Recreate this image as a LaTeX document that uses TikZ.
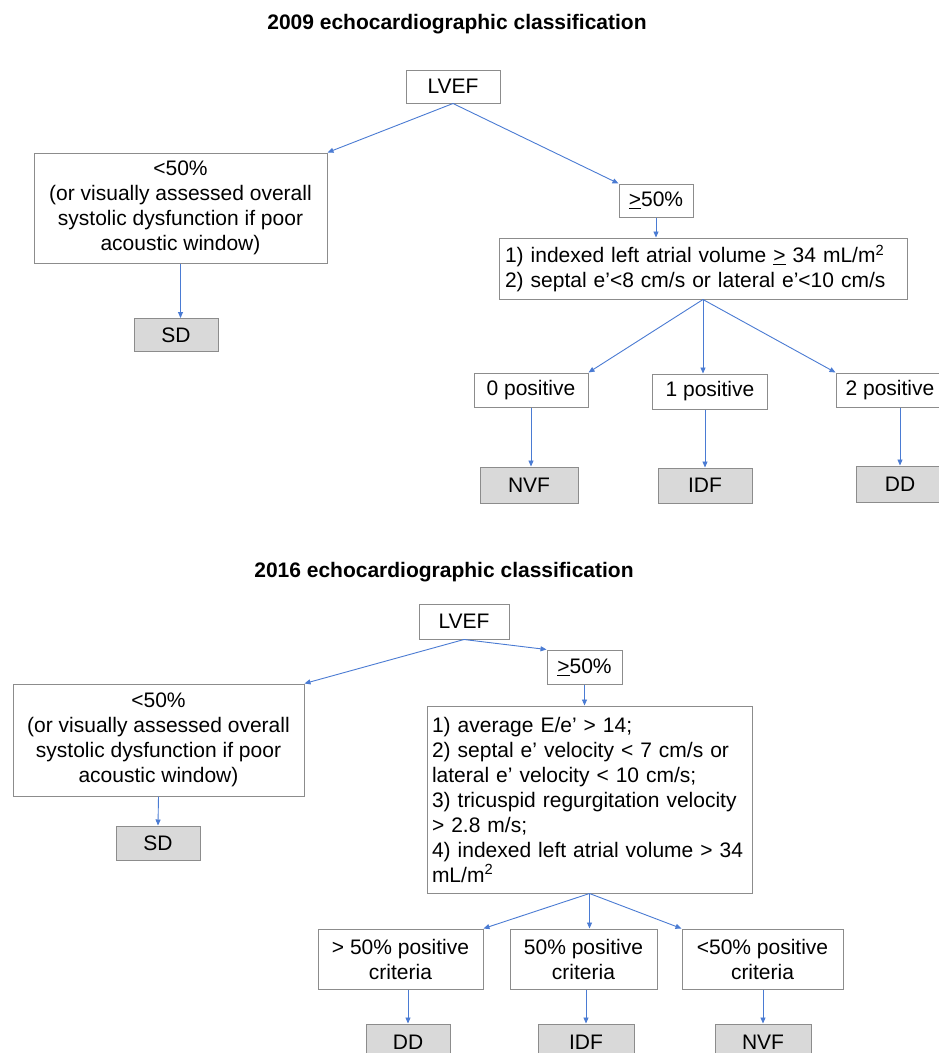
\documentclass[tikz,border=0pt]{standalone}
\usepackage{fontspec}
\setmainfont{Liberation Sans}
\usepackage{tikz}
\usetikzlibrary{arrows.meta}
\definecolor{arrblue}{HTML}{4A7BD3}
\definecolor{boxgray}{HTML}{8C8C8C}
\definecolor{resfill}{HTML}{D9D9D9}

\begin{document}
\begin{tikzpicture}[x=1pt,y=-1pt,
	every node/.style={font=\fontsize{21}{25}\selectfont},
	title/.style={font=\bfseries\fontsize{21}{25}\selectfont},
	box/.style={draw=boxgray, line width=1pt, fill=white, inner sep=0pt, align=center},
	res/.style={box, fill=resfill},
	arr/.style={draw=arrblue, line width=0.9pt, -{Triangle[length=6pt,width=5pt]}}]
	\useasboundingbox (0,0) rectangle (939,1053);
	\fill[white] (0,0) rectangle (939,1053);
	\node[title] (titleA) at (457,24) {2009 echocardiographic classification};
	\node[box, minimum width=94, minimum height=33] (lvefA) at (453,86.5) {LVEF};
	\node[box, minimum width=293, minimum height=110] (lowA) at (180.5,208) {<50\%\\(or visually assessed overall\\systolic dysfunction if poor\\acoustic window)};
	\node[box, minimum width=74, minimum height=33] (highA) at (656,200.5) {\underline{>}50\%};
	\node[box, text width=396, inner xsep=6, minimum height=61, align=left] (critA) at (703,268.5) {1) indexed left atrial volume \underline{>} 34 mL/m\textsuperscript{2}\\2) septal e'<8 cm/s or lateral e'<10 cm/s};
	\node[res, minimum width=84, minimum height=33] (sdA) at (176,335) {SD};
	\node[box, minimum width=114, minimum height=34] (zeroA) at (531,390) {0 positive};
	\node[box, minimum width=115, minimum height=35] (oneA) at (710,391.5) {1 positive};
	\node[box, minimum width=108, minimum height=34] (twoA) at (890,390) {2 positive};
	\node[res, minimum width=98, minimum height=36] (nvfA) at (529,485) {NVF};
	\node[res, minimum width=94, minimum height=35] (idfA) at (705,485.5) {IDF};
	\node[res, minimum width=88, minimum height=36] (ddA) at (900,484) {DD};
	\draw[arr] (lvefA.south) -- (lowA.north east);
	\draw[arr] (lvefA.south) -- (highA.north west);
	\draw[arr] (highA.south) -- (highA.south |- critA.north);
	\draw[arr] (lowA.south) -- (lowA.south |- sdA.north);
	\draw[arr] (critA.south) -- (zeroA.north east);
	\draw[arr] (critA.south) -- (critA.south |- oneA.north);
	\draw[arr] (critA.south) -- (twoA.north west);
	\draw[arr] (zeroA.south) -- (zeroA.south |- nvfA.north);
	\draw[arr] (idfA.north |- oneA.south) -- (idfA.north);
	\draw[arr] (ddA.north |- twoA.south) -- (ddA.north);
	\node[title] (titleB) at (444,572) {2016 echocardiographic classification};
	\node[box, minimum width=90, minimum height=35] (lvefB) at (464,621.5) {LVEF};
	\node[box, minimum width=75, minimum height=34] (highB) at (584.5,667) {\underline{>}50\%};
	\node[box, minimum width=291, minimum height=112] (lowB) at (158.5,740) {<50\%\\(or visually assessed overall\\systolic dysfunction if poor\\acoustic window)};
	\node[res, minimum width=84, minimum height=34] (sdB) at (158,843) {SD};
	\node[box, text width=315, inner xsep=5, minimum height=187, align=left] (critB) at (589.5,799.5) {1) average E/e' > 14;\\2) septal e' velocity < 7 cm/s or\\lateral e' velocity < 10 cm/s;\\3) tricuspid regurgitation velocity\\> 2.8 m/s;\\4) indexed left atrial volume > 34\\mL/m\textsuperscript{2}};
	\node[box, minimum width=165, minimum height=60] (gtB) at (400.5,959) {> 50\% positive\\criteria};
	\node[box, minimum width=147, minimum height=60] (eqB) at (583.5,959) {50\% positive\\criteria};
	\node[box, minimum width=161, minimum height=60] (ltB) at (762.5,959) {<50\% positive\\criteria};
	\node[res, minimum width=84, minimum height=36] (ddB) at (408,1042) {DD};
	\node[res, minimum width=96, minimum height=36] (idfB) at (586,1042) {IDF};
	\node[res, minimum width=96, minimum height=36] (nvfB) at (763,1042) {NVF};
	\draw[arr] (lvefB.south) -- (lowB.north east);
	\draw[arr] (lvefB.south) -- (highB.north west);
	\draw[arr] (highB.south) -- (highB.south |- critB.north);
	\draw[arr] (lowB.south) -- (sdB.north);
	\draw[arr] (critB.south) -- (gtB.north east);
	\draw[arr] (critB.south) -- (critB.south |- eqB.north);
	\draw[arr] (critB.south) -- (ltB.north west);
	\draw[arr] (ddB.north |- gtB.south) -- (ddB.north);
	\draw[arr] (idfB.north |- eqB.south) -- (idfB.north);
	\draw[arr] (nvfB.north |- ltB.south) -- (nvfB.north);
\end{tikzpicture}
\end{document}
